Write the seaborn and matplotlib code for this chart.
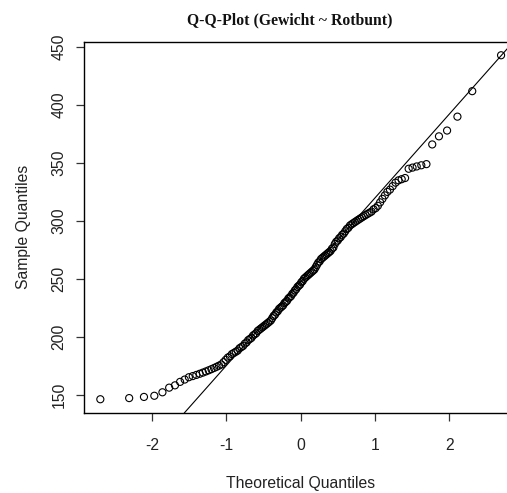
import statistics
import numpy as np
import pandas as pd
import matplotlib
matplotlib.use("Agg")
import matplotlib.pyplot as plt
import seaborn as sns

# Sorted body weights (Gewicht) of the Rotbunt group
gewicht = [
    146, 147, 148, 149, 152, 156, 158, 161, 163, 165,
    166, 167, 168, 169, 170, 171, 172, 173, 174, 175,
    176, 178, 180, 182, 183, 185, 186, 187, 188, 190,
    191, 192, 194, 195, 197, 198, 199, 201, 202, 203,
    205, 206, 207, 208, 209, 210, 211, 212, 213, 214,
    216, 218, 219, 221, 222, 224, 225, 226, 227, 229,
    230, 231, 233, 234, 235, 237, 238, 240, 241, 243,
    244, 245, 247, 248, 250, 251, 252, 253, 254, 255,
    256, 257, 258, 260, 262, 264, 265, 267, 268, 269,
    270, 271, 272, 273, 274, 276, 277, 280, 282, 283,
    285, 286, 288, 289, 291, 293, 294, 296, 297, 298,
    299, 300, 301, 302, 303, 304, 305, 306, 307, 308,
    310, 311, 313, 316, 319, 322, 325, 327, 330, 333,
    335, 336, 337, 345, 346, 347, 348, 349, 366, 373,
    378, 390, 412, 443,
]

x_ticks = [-2, -1, 0, 1, 2]
y_ticks = [150, 200, 250, 300, 350, 400, 450]
title = "Q-Q-Plot (Gewicht ~ Rotbunt)"
x_label = "Theoretical Quantiles"
y_label = "Sample Quantiles"

# Normal plotting positions (ppoints, a = 0.5)
n = len(gewicht)
nd = statistics.NormalDist()
theo = [nd.inv_cdf((i - 0.5) / n) for i in range(1, n + 1)]
df = pd.DataFrame({"theo": theo, "sample": sorted(gewicht)})

# Reference line through the quartiles
q1, q3 = np.quantile(df["sample"], [0.25, 0.75])
z1, z3 = nd.inv_cdf(0.25), nd.inv_cdf(0.75)
slope = (q3 - q1) / (z3 - z1)
intercept = q1 - slope * z1

sns.set_style("ticks")
plt.rcParams["font.family"] = ["Liberation Sans", "DejaVu Sans"]

W, H = 507, 493
fig = plt.figure(figsize=(W / 100, H / 100), dpi=100)

def ext(lo, hi):
    r = hi - lo
    return lo - 0.04 * r, hi + 0.04 * r

xlim = ext(min(theo), max(theo))
ylim = ext(min(gewicht), max(gewicht))

left_px, right_px, top_px, bottom_px = 84.3, 517.1, 41.5, 413
ax = fig.add_axes([left_px / W, 1 - bottom_px / H,
                   (right_px - left_px) / W, (bottom_px - top_px) / H])

sns.scatterplot(data=df, x="theo", y="sample", ax=ax, marker="o",
                s=26, facecolor="none", edgecolor="black", linewidth=0.8,
                legend=False, clip_on=False)
ax.axline((0, intercept), slope=slope, color="black", linewidth=0.8)

ax.set_xlim(*xlim)
ax.set_ylim(*ylim)
ax.set_xticks(x_ticks)
ax.set_xticklabels([str(t) for t in x_ticks])
ax.set_yticks(y_ticks)
ax.set_yticklabels([str(t) for t in y_ticks], rotation=90, va="center")

for s in ax.spines.values():
    s.set_color("black")
    s.set_linewidth(1.0)
fs = 11.3
ax.tick_params(axis="both", direction="out", length=5.8, width=0.9,
               color="#333333", labelsize=fs, labelcolor="#222222")
ax.tick_params(axis="x", pad=12.5)
ax.tick_params(axis="y", pad=7)

ax.set_xlabel(x_label, fontsize=fs, color="#222222", labelpad=16)
ax.set_ylabel(y_label, fontsize=fs, color="#222222", labelpad=14.5)
fig.text(290 / W, 1 - 20.5 / H, title, ha="center", va="center",
         fontsize=fs, fontweight="bold", family=["Liberation Serif", "DejaVu Serif"],
         color="#111111")

fig.savefig("out.png", dpi=100)
